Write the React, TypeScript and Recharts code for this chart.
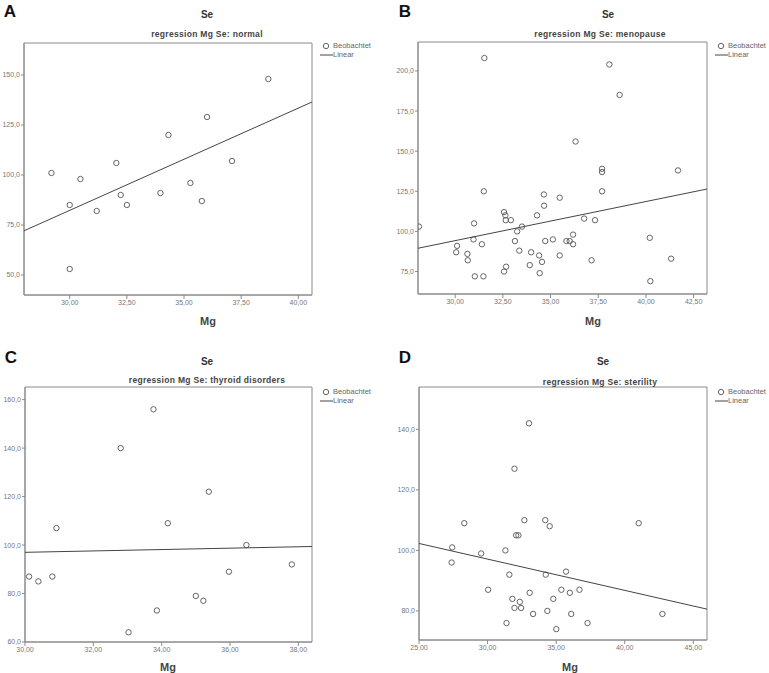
import React from "react"
import { ScatterChart, Scatter, XAxis, YAxis, ReferenceArea } from "recharts"

// A: normal
const normalMg = [29.2, 30.47, 30.0, 30.0, 31.18, 32.04, 32.23, 32.5, 33.97, 34.32, 35.28, 35.78, 36.01, 37.1, 38.69]
const normalSe = [101, 98, 85, 53, 82, 106, 90, 85, 91, 120, 96, 87, 129, 107, 148]
const normalFitMg = [28, 40.6]
const normalFitSe = [72.1, 136.5]

// B: menopause
const menoMg = [
  28.1, 31.53, 38.08, 38.62, 36.31, 37.7, 37.7, 37.7, 41.68, 31.5, 34.65, 35.48, 34.66, 32.56, 32.63, 32.65,
  32.92, 34.29, 30.99, 33.5, 33.25, 36.76, 37.33, 30.96, 31.4, 30.1, 30.05, 30.64, 30.66, 33.13, 33.36, 33.98,
  34.4, 34.55, 33.91, 34.43, 32.67, 32.56, 31.03, 31.48, 34.72, 35.12, 35.48, 35.83, 36.0, 36.18, 36.18, 37.15,
  40.2, 40.23, 41.32,
]
const menoSe = [
  103, 208, 204, 185, 156, 139, 137, 125, 138, 125, 123, 121, 116, 112, 110, 107,
  107, 110, 105, 103, 100, 108, 107, 95, 92, 91, 87, 86, 82, 94, 88, 87,
  85, 81, 79, 74, 78, 75, 72, 72, 94, 95, 85, 94, 94, 98, 92, 82,
  96, 69, 83,
]
const menoFitMg = [28.05, 43.2]
const menoFitSe = [89.5, 126.4]

// C: thyroid disorders
const thyroidMg = [30.12, 30.39, 30.8, 30.92, 32.8, 33.03, 33.76, 33.86, 34.18, 35.0, 35.22, 35.38, 35.97, 36.48, 37.81]
const thyroidSe = [87, 85, 87, 107, 140, 64, 156, 73, 109, 79, 77, 122, 89, 100, 92]
const thyroidFitMg = [30, 38.4]
const thyroidFitSe = [97.0, 99.4]

// D: sterility
const sterilityMg = [
  33.02, 31.96, 28.3, 32.68, 34.21, 34.53, 41.02, 32.08, 32.25, 27.42, 31.3, 29.53, 27.38, 31.59, 34.24, 35.72,
  30.04, 35.38, 36.7, 33.07, 36.0, 31.81, 34.79, 32.35, 31.96, 32.44, 34.36, 33.32, 36.1, 42.75, 31.38, 37.29, 35.01,
]
const sterilitySe = [
  142, 127, 109, 110, 110, 108, 109, 105, 105, 101, 100, 99, 96, 92, 92, 93,
  87, 87, 87, 86, 86, 84, 84, 83, 81, 81, 80, 79, 79, 79, 76, 76, 74,
]
const sterilityFitMg = [25, 46]
const sterilityFitSe = [102.3, 80.6]

const normalXTicks = [30, 32.5, 35, 37.5, 40]
const normalYTicks = [50, 75, 100, 125, 150]
const menoXTicks = [30, 32.5, 35, 37.5, 40, 42.5]
const menoYTicks = [75, 100, 125, 150, 175, 200]
const thyroidXTicks = [30, 32, 34, 36, 38]
const thyroidYTicks = [60, 80, 100, 120, 140, 160]
const sterilityXTicks = [25, 30, 35, 40, 45]
const sterilityYTicks = [80, 100, 120, 140]

const FONT = "'Liberation Sans', Arial, sans-serif"
const AXIS = "#8a8a8a"

const toPoints = (mg: number[], se: number[]) => mg.map((m, i) => ({ mg: m, se: se[i] }))
const fmtX = (v: number) => v.toFixed(2).replace(".", ",")
const fmtY = (v: number) => v.toFixed(1).replace(".", ",")

const Dot = (p: any) => <circle cx={p.cx} cy={p.cy} r={2.7} fill="none" stroke="#555" strokeWidth={0.9} />
const NoDot = () => <g />

type PanelProps = {
  left: number
  top: number
  width: number
  height: number
  margin: { top: number; right: number; bottom: number; left: number }
  yWidth: number
  xHeight: number
  mg: number[]
  se: number[]
  fitMg: number[]
  fitSe: number[]
  xDomain: [number, number]
  yDomain: [number, number]
  xTicks: number[]
  yTicks: number[]
}

function Panel(p: PanelProps) {
  const tick = { fontSize: 7, fill: "#777", fontFamily: FONT }
  return (
    <div style={{ position: "absolute", left: p.left, top: p.top }}>
      <ScatterChart width={p.width} height={p.height} margin={p.margin}>
        <XAxis
          type="number"
          dataKey="mg"
          domain={p.xDomain}
          ticks={p.xTicks}
          allowDataOverflow
          tickFormatter={fmtX}
          height={p.xHeight}
          tick={tick}
          tickSize={4}
          tickMargin={1}
          stroke={AXIS}
          interval={0}
        />
        <YAxis
          type="number"
          dataKey="se"
          domain={p.yDomain}
          ticks={p.yTicks}
          allowDataOverflow
          tickFormatter={fmtY}
          width={p.yWidth}
          tick={tick}
          tickSize={3}
          tickMargin={1}
          stroke={AXIS}
          interval={0}
        />
        <ReferenceArea
          x1={p.xDomain[0]}
          x2={p.xDomain[1]}
          y1={p.yDomain[0]}
          y2={p.yDomain[1]}
          fill="none"
          stroke={AXIS}
          strokeWidth={1}
        />
        <Scatter data={toPoints(p.mg, p.se)} shape={Dot} isAnimationActive={false} />
        <Scatter
          data={toPoints(p.fitMg, p.fitSe)}
          line={{ stroke: "#444", strokeWidth: 1 }}
          shape={NoDot}
          isAnimationActive={false}
        />
      </ScatterChart>
    </div>
  )
}

function Text(props: { x: number; y: number; size: number; bold?: boolean; color?: string; spacing?: number; anchor?: "start" | "middle"; children: React.ReactNode }) {
  const { x, y, size, bold, color = "#333", spacing = 0, anchor = "middle" } = props
  return (
    <div
      style={{
        position: "absolute",
        left: x,
        top: y,
        transform: anchor === "middle" ? "translate(-50%, -50%)" : "translate(0, -50%)",
        fontFamily: FONT,
        fontSize: size,
        fontWeight: bold ? "bold" : "normal",
        color,
        letterSpacing: spacing,
        whiteSpace: "nowrap",
        lineHeight: 1,
      }}
    >
      {props.children}
    </div>
  )
}

function Legend({ x, y }: { x: number; y: number }) {
  return (
    <>
      <svg style={{ position: "absolute", left: x - 8, top: y - 5 }} width={16} height={20}>
        <circle cx={7} cy={5} r={2.7} fill="none" stroke="#555" strokeWidth={0.9} />
        <line x1={1} x2={14} y1={14} y2={14} stroke="#444" strokeWidth={1} />
      </svg>
      <Text x={x + 6} y={y} size={7.5} color="#666" anchor="start">Beobachtet</Text>
      <Text x={x + 6} y={y + 9} size={7.5} color="#666" anchor="start">Linear</Text>
    </>
  )
}

function Header({ letter, lx, ly, cx, ty, sx, sy, subtitle }: { letter: string; lx: number; ly: number; cx: number; ty: number; sx: number; sy: number; subtitle: string }) {
  return (
    <>
      <Text x={lx} y={ly} size={17} bold color="#111">{letter}</Text>
      <Text x={cx} y={ty} size={10} bold color="#333">Se</Text>
      <Text x={sx} y={sy} size={8.5} bold color="#444" spacing={0.3}>{subtitle}</Text>
    </>
  )
}

export default function App() {
  return (
    <div style={{ position: "absolute", left: 0, top: 0, width: 769, height: 673, background: "#fff" }}>
      <Panel
        left={0}
        top={0}
        width={385}
        height={310}
        margin={{ top: 43, right: 73, bottom: 0, left: 0 }}
        yWidth={24}
        xHeight={15}
        mg={normalMg}
        se={normalSe}
        fitMg={normalFitMg}
        fitSe={normalFitSe}
        xDomain={[28, 40.6]}
        yDomain={[40, 166]}
        xTicks={normalXTicks}
        yTicks={normalYTicks}
      />
      <Panel
        left={385}
        top={0}
        width={384}
        height={310}
        margin={{ top: 42, right: 62, bottom: 0, left: 0 }}
        yWidth={33}
        xHeight={16}
        mg={menoMg}
        se={menoSe}
        fitMg={menoFitMg}
        fitSe={menoFitSe}
        xDomain={[28.05, 43.2]}
        yDomain={[61, 218]}
        xTicks={menoXTicks}
        yTicks={menoYTicks}
      />
      <Panel
        left={0}
        top={330}
        width={385}
        height={330}
        margin={{ top: 57, right: 73, bottom: 0, left: 0 }}
        yWidth={25}
        xHeight={18}
        mg={thyroidMg}
        se={thyroidSe}
        fitMg={thyroidFitMg}
        fitSe={thyroidFitSe}
        xDomain={[30, 38.4]}
        yDomain={[60, 165.2]}
        xTicks={thyroidXTicks}
        yTicks={thyroidYTicks}
      />
      <Panel
        left={385}
        top={330}
        width={384}
        height={330}
        margin={{ top: 57, right: 62, bottom: 0, left: 0 }}
        yWidth={34}
        xHeight={20}
        mg={sterilityMg}
        se={sterilitySe}
        fitMg={sterilityFitMg}
        fitSe={sterilityFitSe}
        xDomain={[25, 46]}
        yDomain={[70.4, 154]}
        xTicks={sterilityXTicks}
        yTicks={sterilityYTicks}
      />

      <Header letter="A" lx={10} ly={11} cx={207} ty={15} sx={207} sy={34} subtitle="regression Mg Se: normal" />
      <Header letter="B" lx={405} ly={11} cx={608} ty={15} sx={600} sy={34} subtitle="regression Mg Se: menopause" />
      <Header letter="C" lx={11} ly={357} cx={207} ty={362} sx={207} sy={380} subtitle="regression Mg Se: thyroid disorders" />
      <Header letter="D" lx={405} ly={357} cx={603} ty={362} sx={600} sy={382} subtitle="regression Mg Se: sterility" />

      <Legend x={327} y={46} />
      <Legend x={722} y={46} />
      <Legend x={327} y={392} />
      <Legend x={722} y={392} />

      <Text x={208} y={321} size={11} bold color="#444">Mg</Text>
      <Text x={593} y={321} size={11} bold color="#444">Mg</Text>
      <Text x={168} y={667} size={11} bold color="#444">Mg</Text>
      <Text x={570} y={667} size={11} bold color="#444">Mg</Text>
    </div>
  )
}
